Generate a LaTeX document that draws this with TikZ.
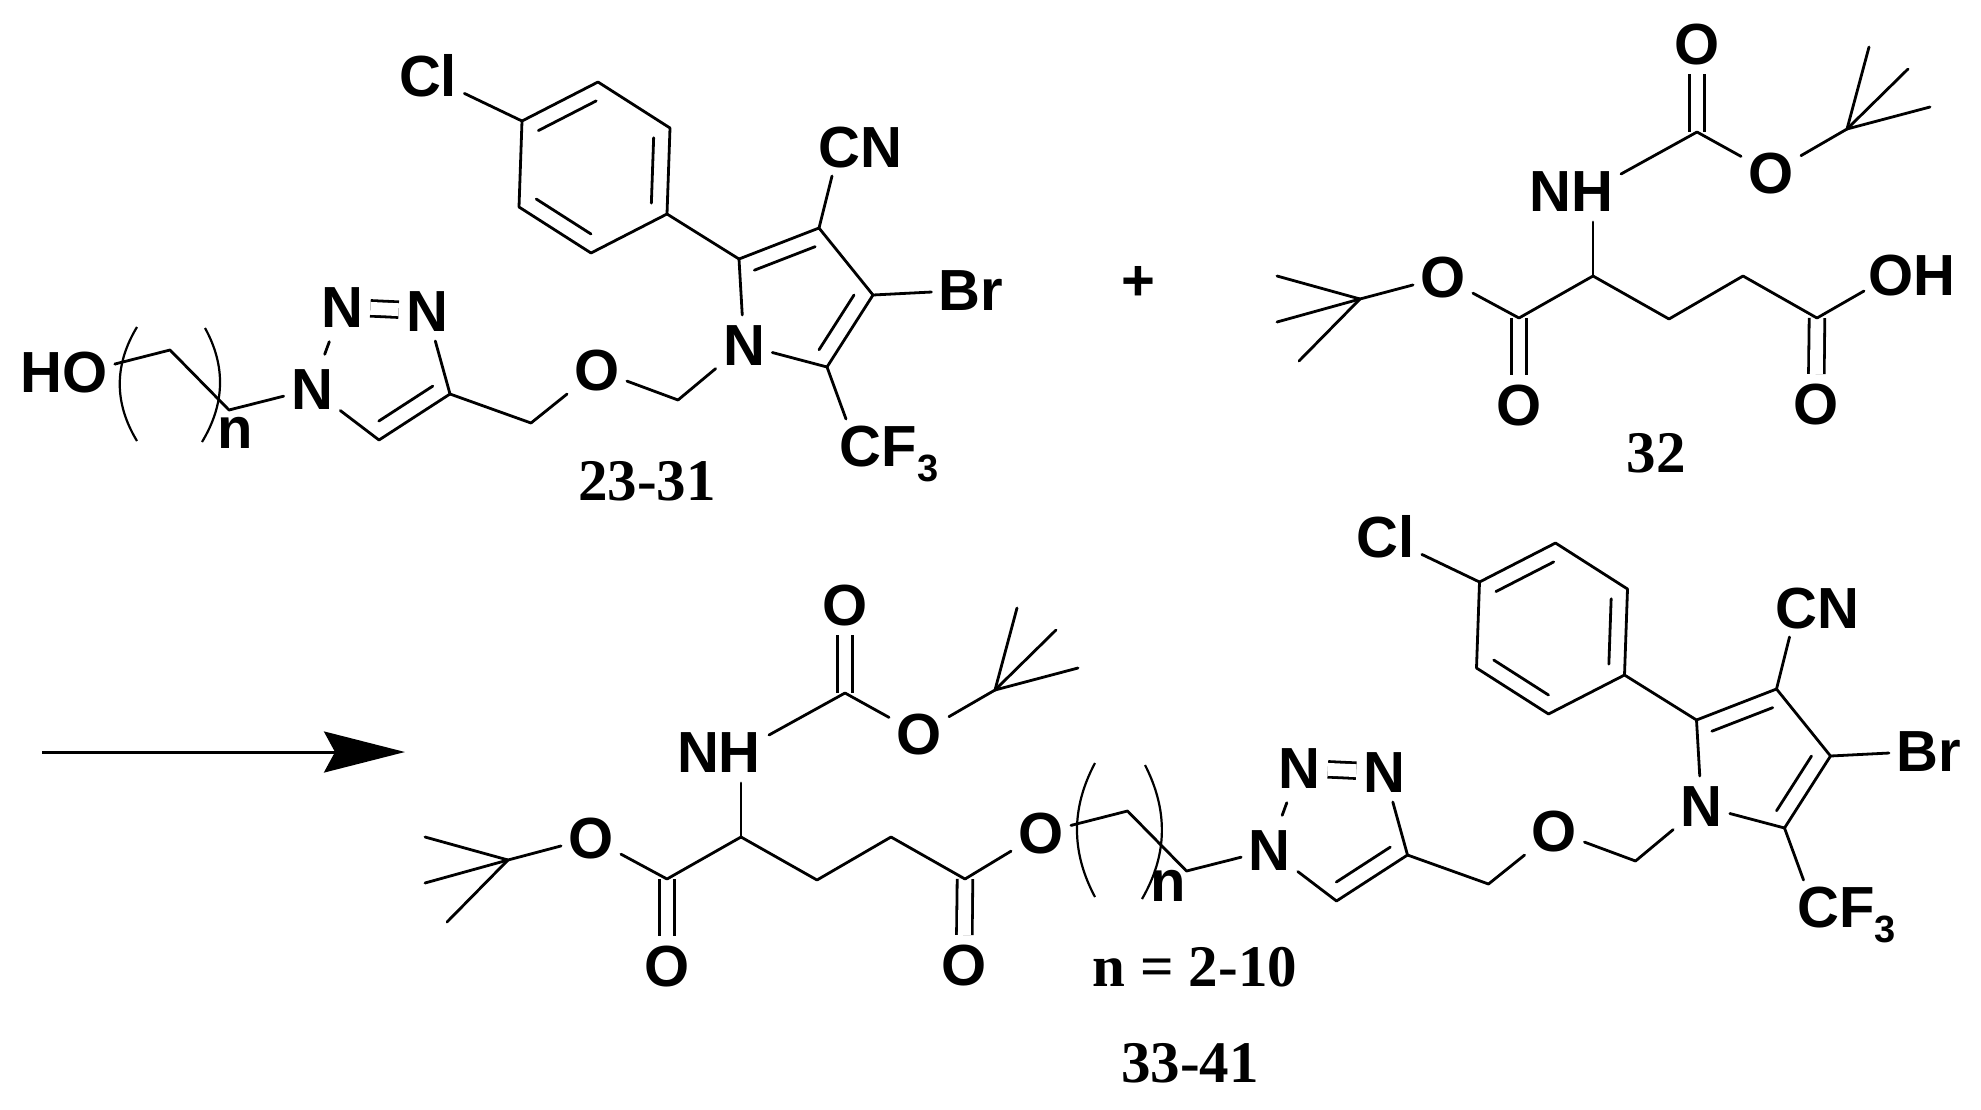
\documentclass[tikz,border=0pt]{standalone}
\usepackage{fontspec}
\setmainfont{Liberation Serif}
\setsansfont{Liberation Sans}
\usetikzlibrary{calc}
\usetikzlibrary{arrows.meta}
\newcommand{\ringbond}[2]{\draw[bond] ($(#1)!0.12!(#2)!8pt!90:(#2)$) -- ($(#2)!0.12!(#1)!8pt!-90:(#1)$);}
\newcommand{\subthree}{\raisebox{-7.5pt}{\fontsize{19}{19}\selectfont 3}}
\tikzset{
  bond/.style={line width=1.4pt,line cap=round,line join=round},
  dblbond/.style={line width=1.4pt,double,double distance=6.4pt},
  bracket/.style={line width=1.1pt},
  atom/.style={font=\fontsize{29}{29}\selectfont\sffamily\bfseries,text height=20.8pt,text depth=0pt,inner xsep=3.5pt,inner ysep=4.4pt},
  tag/.style={font=\fontsize{29.5}{29.5}\selectfont\bfseries,text height=19.8pt,text depth=0pt,inner sep=0pt},
  arylpart/.pic={
    \coordinate (ch0) at (115,364);
    \coordinate (ch1) at (170,350);
    \coordinate (ch2) at (229,410);
    \node[atom] (n1)  at (312,389) {N};
    \node[atom] (n2)  at (342,307) {N};
    \node[atom] (n3)  at (427,311) {N};
    \coordinate (t4)  at (450,394);
    \coordinate (t5)  at (379,440);
    \coordinate (ch4) at (531,423);
    \node[atom] (ox)  at (597,370) {O};
    \coordinate (ch5) at (678,400);
    \node[atom] (np)  at (744,345) {N};
    \coordinate (p2)  at (739,259);
    \coordinate (p3)  at (819,228);
    \coordinate (p4)  at (873,295);
    \coordinate (p5)  at (827,367);
    \coordinate (b1)  at (522,121);
    \coordinate (b2)  at (598,82);
    \coordinate (b3)  at (670,128);
    \coordinate (b4)  at (667,214);
    \coordinate (b5)  at (591,253);
    \coordinate (b6)  at (519,207);
    \node[atom] (cl)  at (428,76)  {Cl};
    \node[atom] (cn)  at (860,147) {CN};
    \node[atom] (br)  at (971,290) {Br};
    \node[atom] (cf)  at (889,446) {CF\subthree};
    \coordinate (cnend) at (832,176);
    \coordinate (cfend) at (846,419);
    \draw[dblbond] (n2) -- (n3);
    \draw[bond] (ch0) -- (ch1) -- (ch2) -- (n1);
    \draw[bond,shorten >=2.5pt,shorten <=2.5pt] (n1) -- (n2);
    \draw[bond] (n3) -- (t4) -- (t5) -- (n1);
    \draw[bond] (t4) -- (ch4) -- (ox) -- (ch5) -- (np);
    \draw[bond] (np) -- (p2) -- (p3) -- (p4) -- (p5) -- (np);
    \draw[bond] (b1) -- (b2) -- (b3) -- (b4) -- (b5) -- (b6) -- cycle;
    \draw[bond] (b4) -- (p2);
    \draw[bond] (cl) -- (b1);
    \draw[bond] (p3) -- (cnend);
    \draw[bond] (p4) -- (br);
    \draw[bond] (p5) -- (cfend);
    \ringbond{b2}{b1}
    \ringbond{b4}{b3}
    \ringbond{b6}{b5}
    \ringbond{p3}{p2}
    \ringbond{p5}{p4}
    \ringbond{t5}{t4}
  },
  glupart/.pic={
    \coordinate (me1) at (1277,276);
    \coordinate (me2) at (1277,322);
    \coordinate (me3) at (1299,361);
    \coordinate (tb1) at (1360,299);
    \node[atom] (o1)  at (1443,277) {O};
    \coordinate (c1)  at (1519,318);
    \node[atom] (o2)  at (1519,405) {O};
    \coordinate (ca)  at (1593,276);
    \coordinate (cb)  at (1669,319);
    \coordinate (cg)  at (1743,276);
    \coordinate (c5)  at (1817,318);
    \node[atom] (o3)  at (1816,404) {O};
    \node[atom] (nh)  at (1571,191) {NH};
    \coordinate (nhbot) at (1593,222);
    \coordinate (nhtop) at (1621,174);
    \coordinate (cb1) at (1697,132);
    \node[atom] (o4)  at (1697,44)  {O};
    \node[atom] (o5)  at (1771,173) {O};
    \coordinate (tb2) at (1847,129);
    \coordinate (me4) at (1869,47);
    \coordinate (me5) at (1908,69);
    \coordinate (me6) at (1930,107);
    \draw[dblbond] (c1) -- (o2);
    \draw[dblbond] (c5) -- (o3);
    \draw[dblbond] (cb1) -- (o4);
    \draw[bond] (me1) -- (tb1);
    \draw[bond] (me2) -- (tb1);
    \draw[bond] (me3) -- (tb1) -- (o1) -- (c1) -- (ca) -- (cb) -- (cg) -- (c5);
    \draw[bond] (ca) -- (nhbot);
    \draw[bond] (nhtop) -- (cb1) -- (o5) -- (tb2) -- (me4);
    \draw[bond] (tb2) -- (me5);
    \draw[bond] (tb2) -- (me6);
  }
}
\begin{document}
\begin{tikzpicture}[x=0.5pt,y=-0.5pt]
  \useasboundingbox (0,0) rectangle (1981,1109);
  % reactants
  \pic (top) at (0,0) {arylpart};
  \node[atom] (ho) at (64,372) {HO};
  \draw[bond] (ho) -- (topch0);
  \draw[bracket] (137,327) .. controls (114,365) and (114,403) .. (137,441);
  \draw[bracket] (205,328) .. controls (226,366) and (225,404) .. (202,442);
  \node[atom] (ntop) at (235,428) {n};
  \node[tag] (lab2331) at (647,481) {23-31};
  \node[atom] (plus) at (1138,280) {+};
  \pic (acid) at (0,0) {glupart};
  \node[atom] (oh) at (1912,275) {OH};
  \coordinate (ohend) at (1864,291);
  \draw[bond] (acidc5) -- (ohend);
  \node[tag] (lab32) at (1656,453) {32};
  % reaction arrow
  \coordinate (arrowa) at (42,752);
  \coordinate (arrowb) at (405,752);
  \draw[line width=1.5pt,-{Stealth[length=40.5pt,width=20.5pt,inset=5.5pt]}] (arrowa) -- (arrowb);
  % product
  \pic (low) at (-852,561) {glupart};
  \node[atom] (oe) at (1041,833) {O};
  \draw[bond] (lowc5) -- (oe);
  \pic (prod) at (957.5,461) {arylpart};
  \draw[bond] (oe) -- (prodch0);
  \draw[bracket] (1095,763) .. controls (1071,808) and (1071,852) .. (1095,897);
  \draw[bracket] (1145,765) .. controls (1168,810) and (1168,854) .. (1142,899);
  \node[atom] (nlow) at (1168,881) {n};
  \node[tag] (labn) at (1195,967) {n = 2-10};
  \node[tag] (lab3341) at (1190,1063) {33-41};
\end{tikzpicture}
\end{document}
